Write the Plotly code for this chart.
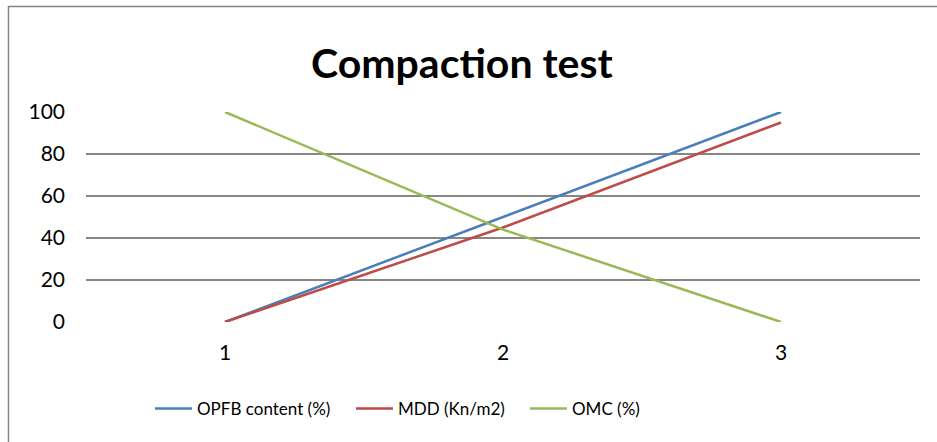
import plotly.graph_objects as go

categories = ["1", "2", "3"]
opfb = [0, 50, 100]
mdd = [0, 45, 95]
omc = [100, 44, 0]
series_names = ["OPFB content (%)", "MDD (Kn/m2)", "OMC (%)"]
y_ticks = [0, 20, 40, 60, 80, 100]

colors = ["#4A7EBB", "#BE4B48", "#98B954"]
FONT = "Lato"

L, R, T, B = 86, 920, 112, 322
W, H = 937, 442

def px(x):
    return (x - L) / (R - L)

def py(y):
    return (B - y) / (B - T)

legend_x = [150, 351, 525]
legend_keys = ["legend", "legend2", "legend3"]

fig = go.Figure()
for name, vals, c, lk in zip(series_names, [opfb, mdd, omc], colors, legend_keys):
    fig.add_trace(go.Scatter(x=[1, 2, 3], y=vals, mode="lines", name=name,
                             line=dict(color=c, width=2.5), legend=lk))

layout_legends = {}
for lk, lx in zip(legend_keys, legend_x):
    layout_legends[lk] = dict(orientation="h", x=px(lx), y=py(409), xanchor="left",
                              yanchor="middle", font=dict(size=17, family=FONT),
                              bgcolor="rgba(0,0,0,0)", itemwidth=37)

fig.update_layout(
    width=W, height=H,
    margin=dict(l=L, r=W - R, t=T, b=H - B),
    plot_bgcolor="white", paper_bgcolor="white",
    font=dict(family=FONT, size=21, color="black"),
    showlegend=True,
    annotations=[dict(text="<b>Compaction test</b>", x=px(462), y=py(63),
                      xref="paper", yref="paper", showarrow=False,
                      font=dict(size=41, family=FONT, color="black"),
                      xanchor="center", yanchor="middle")],
    shapes=[dict(type="rect", xref="paper", yref="paper",
                 x0=px(8.5), y0=py(460), x1=px(960), y1=py(6.5),
                 line=dict(color="#868686", width=1.5), fillcolor="rgba(0,0,0,0)",
                 layer="below")],
    **layout_legends,
)
fig.update_xaxes(range=[0.5, 3.5], tickmode="array", tickvals=[1, 2, 3], ticktext=categories,
                 showgrid=False, zeroline=False, showline=False, ticks="",
                 ticklabelstandoff=16)
fig.update_yaxes(range=[0, 100], tickmode="array", tickvals=y_ticks,
                 showgrid=True, gridcolor="#868686", gridwidth=1.5,
                 zeroline=False, showline=False, ticks="", ticklabelstandoff=20)
fig.write_html("out.html")
